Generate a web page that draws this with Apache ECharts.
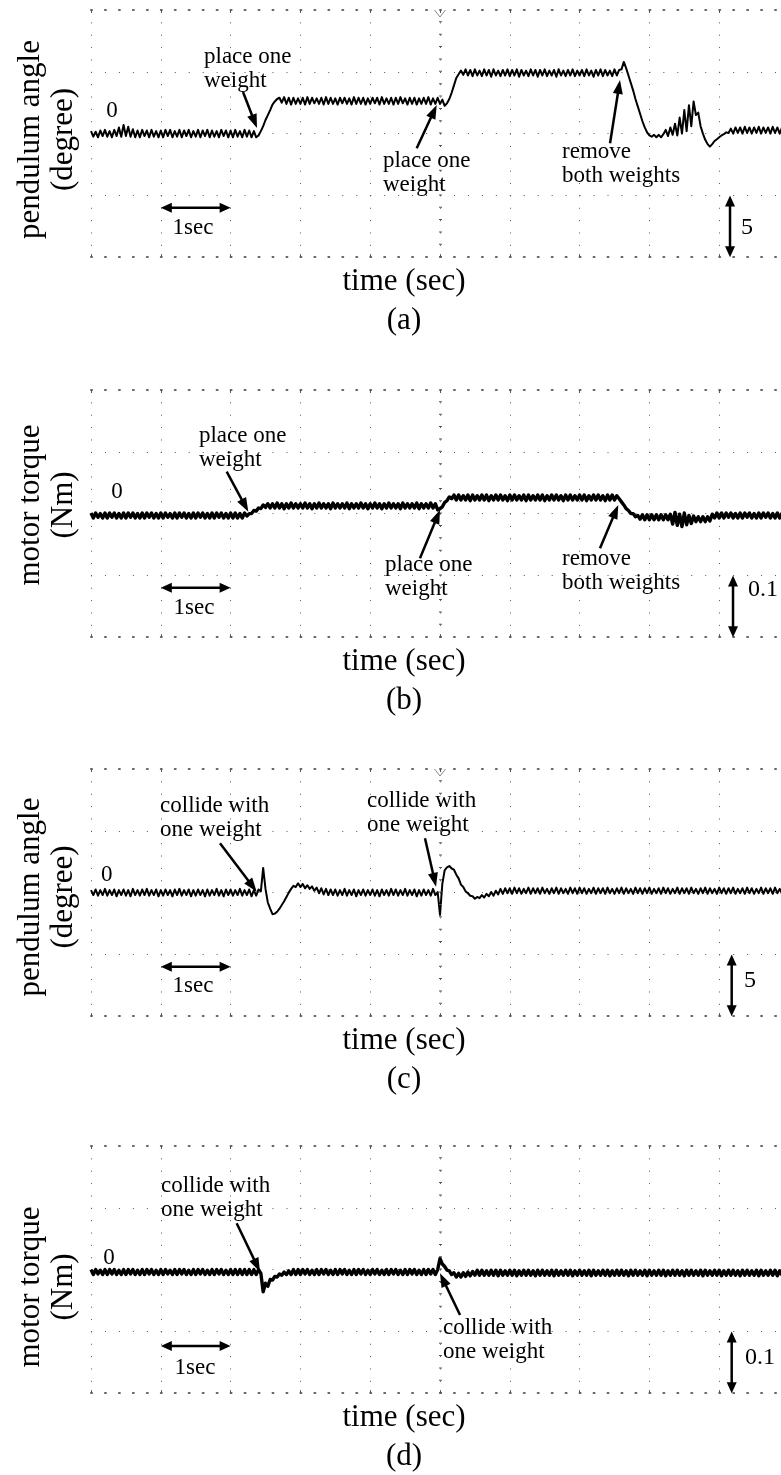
<!DOCTYPE html>
<html>
<head>
<meta charset="utf-8">
<script src="https://cdn.jsdelivr.net/npm/echarts@6/dist/echarts.min.js"></script>
<style>
  html, body { margin: 0; padding: 0; background: #fff; }
  #chart { width: 781px; height: 1475px; }
</style>
</head>
<body>
<div id="chart"></div>
<script>
// Sampling step of the recorded scope traces (seconds)
const DT = 1 / 30;

// (a) pendulum angle while weights are placed / removed (degree)
const angleLoad = [
  0.2, -0.25, 0.15, -0.3, 0.25, -0.2, 0.3, -0.25, 0.2, -0.3, 0.3, -0.2, 0.5, -0.25, 0.7, -0.2, 0.55, -0.25, 0.35, -0.3, 0.25, -0.3, 0.3, -0.2, 0.25, -0.3, 0.3, -0.25, 0.2, -0.3,
  0.25, -0.3, 0.3, -0.2, 0.3, -0.3, 0.2, -0.25, 0.3, -0.3, 0.25, -0.2, 0.3, -0.3, 0.2, -0.25, 0.3, -0.3, 0.25, -0.2, 0.3, -0.3, 0.25, -0.25, 0.2, -0.3, 0.3, -0.2, 0.25, -0.3,
  0.25, -0.3, 0.3, -0.25, 0.2, -0.3, 0.3, -0.25, 0.25, -0.3, 0.2, -0.3, -0.15, 0.2, 0.6, 1.1, 1.5, 1.9, 2.35, 2.6, 2.8, 2.9, 2.5, 2.95, 2.4, 2.9, 2.35, 2.9, 2.4, 2.85,
  2.4, 2.9, 2.35, 2.95, 2.4, 2.9, 2.45, 2.85, 2.4, 2.9, 2.35, 2.95, 2.4, 2.9, 2.4, 2.85, 2.35, 2.9, 2.45, 2.9, 2.4, 2.85, 2.35, 2.95, 2.4, 2.9, 2.4, 2.9, 2.35, 2.85,
  2.4, 2.9, 2.45, 2.9, 2.35, 2.95, 2.4, 2.85, 2.4, 2.9, 2.35, 2.9, 2.4, 2.95, 2.45, 2.85, 2.35, 2.9, 2.4, 2.9, 2.35, 2.85, 2.4, 2.9, 2.4, 2.95, 2.35, 2.85, 2.4, 2.9,
  2.4, 2.75, 2.25, 2.45, 2.8, 3.3, 3.9, 4.5, 4.8, 5.1, 4.75, 5.2, 4.7, 5.15, 4.65, 5.2, 4.7, 5.1, 4.65, 5.2, 4.7, 5.15, 4.6, 5.2, 4.7, 5.1, 4.65, 5.15, 4.7, 5.2,
  4.65, 5.15, 4.7, 5.2, 4.6, 5.15, 4.7, 5.1, 4.65, 5.2, 4.7, 5.15, 4.6, 5.15, 4.7, 5.2, 4.65, 5.1, 4.7, 5.15, 4.6, 5.2, 4.7, 5.1, 4.65, 5.15, 4.7, 5.2, 4.65, 5.1,
  4.7, 5.15, 4.65, 5.2, 4.7, 5.1, 4.6, 5.15, 4.7, 5.2, 4.65, 5.15, 4.7, 5.1, 4.65, 5.2, 4.7, 5.15, 5.2, 5.8, 5.3, 4.7, 4.1, 3.5, 2.8, 2.2, 1.6, 1.0, 0.5, 0.1,
  -0.15, -0.25, -0.1, -0.3, -0.1, -0.3, -0.05, 0.3, -0.2, 0.5, -0.1, 0.8, -0.15, 1.3, 0.0, 1.9, 0.2, 2.3, 0.6, 2.6, 1.5, 1.7, 0.6, 0.0, -0.5, -0.85, -1.05, -0.85, -0.6, -0.45,
  -0.3, -0.15, -0.05, 0.1, 0.05, 0.4, 0.0, 0.5, 0.05, 0.5, 0.0, 0.55, 0.05, 0.5, 0.0, 0.5, 0.05, 0.55, 0.0, 0.5, 0.05, 0.5, 0.0, 0.55, 0.05, 0.5, 0.0, 0.5
];

// (b) motor torque while weights are placed / removed (Nm)
const torqueLoad = [
  0.001, -0.007, 0.001, -0.006, 0.0, -0.007, 0.001, -0.007, 0.001, -0.006, 0.001, -0.007, 0.0, -0.007, 0.001, -0.007, 0.001, -0.006, 0.001, -0.007, 0.0, -0.007, 0.001, -0.007, 0.001, -0.006, 0.001, -0.007, 0.0, -0.007,
  0.001, -0.007, 0.001, -0.006, 0.0, -0.007, 0.001, -0.007, 0.001, -0.006, 0.001, -0.007, 0.0, -0.007, 0.001, -0.007, 0.001, -0.006, 0.001, -0.007, 0.0, -0.007, 0.001, -0.007, 0.001, -0.006, 0.001, -0.007, 0.0, -0.007,
  0.001, -0.007, 0.001, -0.007, 0.0, -0.007, 0.001, -0.004, 0.0, 0.0, 0.005, 0.004, 0.009, 0.008, 0.014, 0.010, 0.016, 0.009, 0.016, 0.009, 0.017, 0.009, 0.016, 0.008, 0.016, 0.009, 0.017, 0.009, 0.016, 0.009,
  0.016, 0.009, 0.017, 0.009, 0.016, 0.008, 0.016, 0.009, 0.017, 0.009, 0.016, 0.009, 0.016, 0.008, 0.017, 0.009, 0.016, 0.009, 0.016, 0.009, 0.017, 0.008, 0.016, 0.009, 0.016, 0.009, 0.017, 0.009, 0.016, 0.008,
  0.016, 0.009, 0.017, 0.009, 0.016, 0.008, 0.016, 0.009, 0.017, 0.009, 0.016, 0.009, 0.016, 0.008, 0.017, 0.009, 0.016, 0.009, 0.016, 0.009, 0.017, 0.008, 0.016, 0.009, 0.016, 0.009, 0.017, 0.009, 0.016, 0.006,
  0.008, 0.011, 0.018, 0.021, 0.027, 0.024, 0.030, 0.022, 0.030, 0.022, 0.029, 0.022, 0.030, 0.021, 0.030, 0.022, 0.029, 0.022, 0.030, 0.022, 0.030, 0.021, 0.029, 0.022, 0.030, 0.022, 0.030, 0.022, 0.029, 0.021,
  0.030, 0.022, 0.030, 0.022, 0.029, 0.022, 0.030, 0.021, 0.030, 0.022, 0.029, 0.022, 0.030, 0.022, 0.030, 0.021, 0.029, 0.022, 0.030, 0.022, 0.030, 0.022, 0.029, 0.021, 0.030, 0.022, 0.030, 0.022, 0.029, 0.022,
  0.030, 0.022, 0.030, 0.021, 0.029, 0.022, 0.030, 0.022, 0.030, 0.022, 0.029, 0.021, 0.030, 0.022, 0.030, 0.022, 0.029, 0.024, 0.019, 0.014, 0.008, 0.005, 0.0, 0.0, -0.005, -0.003, -0.009, -0.002, -0.010, -0.002,
  -0.010, -0.002, -0.010, -0.002, -0.010, -0.002, -0.010, -0.002, -0.010, -0.001, -0.017, 0.002, -0.019, -0.001, -0.021, 0.001, -0.018, -0.003, -0.016, -0.004, -0.013, -0.005, -0.013, -0.005, -0.013, -0.005, -0.012, -0.001, -0.007, 0.001,
  -0.007, 0.001, -0.007, 0.001, -0.006, 0.001, -0.007, 0.0, -0.007, 0.001, -0.007, 0.001, -0.006, 0.001, -0.007, 0.0, -0.007, 0.001, -0.007, 0.001, -0.006, 0.001, -0.007, 0.0, -0.007, 0.001, -0.007, 0.001
];

// (c) pendulum angle when the pendulum collides with a weight (degree)
const angleHit = [
  0.2, -0.2, 0.25, -0.25, 0.2, -0.2, 0.3, -0.25, 0.2, -0.2, 0.25, -0.3, 0.2, -0.2, 0.25, -0.25, 0.2, -0.3, 0.3, -0.2, 0.2, -0.25, 0.25, -0.2, 0.3, -0.25, 0.2, -0.2, 0.25, -0.3,
  0.2, -0.25, 0.25, -0.2, 0.2, -0.3, 0.25, -0.2, 0.3, -0.25, 0.2, -0.2, 0.25, -0.3, 0.2, -0.25, 0.25, -0.2, 0.2, -0.3, 0.25, -0.25, 0.2, -0.2, 0.3, -0.25, 0.2, -0.3, 0.25, -0.2,
  0.25, -0.25, 0.2, -0.2, 0.3, -0.25, 0.2, -0.2, 0.25, -0.3, 0.2, -0.25, 0.25, 0.1, 2.0, 0.3, -0.8, -1.3, -1.75, -1.7, -1.55, -1.3, -1.0, -0.7, -0.35, 0.0, 0.3, 0.55, 0.45, 0.75,
  0.45, 0.7, 0.35, 0.6, 0.3, 0.5, 0.15, 0.4, -0.05, 0.35, -0.15, 0.3, -0.2, 0.25, -0.2, 0.25, -0.25, 0.2, -0.2, 0.3, -0.25, 0.2, -0.2, 0.25, -0.3, 0.2, -0.2, 0.25, -0.25, 0.2,
  -0.2, 0.25, -0.25, 0.2, -0.3, 0.25, -0.2, 0.2, -0.25, 0.3, -0.2, 0.25, -0.25, 0.2, -0.2, 0.3, -0.25, 0.2, -0.2, 0.25, -0.3, 0.2, -0.25, 0.25, -0.2, 0.2, -0.25, 0.3, -0.2, 0.05,
  -1.8, 0.7, 1.8, 2.05, 2.15, 1.95, 1.85, 1.45, 1.15, 0.65, 0.45, 0.1, -0.05, -0.25, -0.3, -0.5, -0.35, -0.45, -0.2, -0.4, -0.1, -0.3, 0.05, -0.25, 0.15, -0.15, 0.3, -0.1, 0.35, -0.05,
  0.35, -0.1, 0.4, -0.05, 0.35, -0.1, 0.3, -0.05, 0.4, -0.1, 0.35, -0.05, 0.35, -0.1, 0.4, -0.05, 0.3, -0.1, 0.35, -0.05, 0.4, -0.1, 0.35, -0.05, 0.3, -0.1, 0.4, -0.05, 0.35, -0.1,
  0.4, -0.05, 0.35, -0.1, 0.3, -0.05, 0.4, -0.1, 0.35, -0.05, 0.35, -0.1, 0.4, -0.05, 0.3, -0.1, 0.35, -0.05, 0.4, -0.1, 0.35, -0.05, 0.3, -0.1, 0.4, -0.05, 0.35, -0.1, 0.35, -0.05,
  0.4, -0.1, 0.3, -0.05, 0.35, -0.1, 0.4, -0.05, 0.35, -0.1, 0.3, -0.05, 0.4, -0.1, 0.35, -0.05, 0.35, -0.1, 0.4, -0.05, 0.3, -0.1, 0.35, -0.05, 0.4, -0.1, 0.35, -0.05, 0.3, -0.1,
  0.4, -0.05, 0.35, -0.1, 0.35, -0.05, 0.4, -0.1, 0.3, -0.05, 0.35, -0.1, 0.4, -0.05, 0.35, -0.1, 0.3, -0.05, 0.4, -0.1, 0.35, -0.05, 0.35, -0.1, 0.4, -0.05, 0.3, -0.1
];

// (d) motor torque when the pendulum collides with a weight (Nm)
const torqueHit = [
  0.0, -0.008, 0.0, -0.007, -0.001, -0.008, 0.0, -0.008, 0.0, -0.007, 0.0, -0.008, -0.001, -0.008, 0.0, -0.008, 0.0, -0.007, 0.0, -0.008, -0.001, -0.008, 0.0, -0.008, 0.0, -0.007, 0.0, -0.008, -0.001, -0.008,
  0.0, -0.008, 0.0, -0.007, -0.001, -0.008, 0.0, -0.008, 0.0, -0.007, 0.0, -0.008, -0.001, -0.008, 0.0, -0.008, 0.0, -0.007, 0.0, -0.008, -0.001, -0.008, 0.0, -0.008, 0.0, -0.007, 0.0, -0.008, -0.001, -0.008,
  0.0, -0.008, 0.0, -0.008, 0.0, -0.008, 0.0, -0.008, 0.0, -0.008, 0.0, -0.008, 0.0, -0.006, -0.036, -0.022, -0.027, -0.016, -0.017, -0.011, -0.012, -0.007, -0.009, -0.004, -0.008, -0.002, -0.008, 0.0, -0.008, 0.0,
  -0.008, 0.0, -0.007, 0.0, -0.008, -0.001, -0.008, 0.0, -0.008, 0.0, -0.007, 0.0, -0.008, -0.001, -0.008, 0.0, -0.008, 0.0, -0.007, 0.0, -0.008, -0.001, -0.008, 0.0, -0.008, 0.0, -0.007, 0.0, -0.008, -0.001,
  -0.008, 0.0, -0.007, 0.0, -0.008, -0.001, -0.008, 0.0, -0.008, 0.0, -0.007, 0.0, -0.008, -0.001, -0.008, 0.0, -0.008, 0.0, -0.007, 0.0, -0.008, -0.001, -0.008, 0.0, -0.008, 0.0, -0.007, 0.0, -0.008, 0.0,
  0.018, 0.009, 0.005, -0.001, -0.002, -0.008, -0.005, -0.012, -0.006, -0.012, -0.005, -0.011, -0.004, -0.010, -0.003, -0.009, -0.001, -0.009, -0.001, -0.009, -0.002, -0.009, -0.001, -0.009, -0.001, -0.010, -0.001, -0.009, -0.002, -0.009,
  -0.001, -0.009, -0.001, -0.010, -0.002, -0.009, -0.001, -0.009, -0.001, -0.009, -0.002, -0.010, -0.001, -0.009, -0.001, -0.009, -0.002, -0.009, -0.001, -0.010, -0.001, -0.009, -0.002, -0.009, -0.001, -0.009, -0.001, -0.010, -0.002, -0.009,
  -0.001, -0.009, -0.002, -0.009, -0.001, -0.010, -0.001, -0.009, -0.002, -0.009, -0.001, -0.009, -0.001, -0.010, -0.002, -0.009, -0.001, -0.009, -0.001, -0.009, -0.002, -0.010, -0.001, -0.009, -0.001, -0.009, -0.002, -0.009, -0.001, -0.010,
  -0.001, -0.009, -0.002, -0.009, -0.001, -0.009, -0.001, -0.010, -0.002, -0.009, -0.001, -0.009, -0.001, -0.009, -0.002, -0.010, -0.001, -0.009, -0.001, -0.009, -0.002, -0.009, -0.001, -0.010, -0.001, -0.009, -0.002, -0.009, -0.001, -0.009,
  -0.001, -0.010, -0.002, -0.009, -0.001, -0.009, -0.001, -0.009, -0.002, -0.010, -0.001, -0.009, -0.001, -0.009, -0.002, -0.009, -0.001, -0.010, -0.001, -0.009, -0.002, -0.009, -0.001, -0.009, -0.001, -0.010, -0.002, -0.009
];

// Axis ranges: 1 s per horizontal division, 5 degree or 0.1 Nm per vertical division
const TIME_RANGE = [0, 10];
const TIME_STEP = 1;
const ANGLE_RANGE = [-10, 10];
const ANGLE_STEP = 5;
const TORQUE_RANGE = [-0.2, 0.2];
const TORQUE_STEP = 0.1;

// Screen layout of the four scope panels (the last division runs past the right edge)
const GRID_LEFT = 91, GRID_W = 698, GRID_H = 247.2;
const MINOR_X = GRID_W / 10 / 5;   // dot pitch along horizontal grid lines
const MINOR_Y = GRID_H / 4 / 5;    // dot pitch along vertical grid lines
const SERIF = '"Liberation Serif", "Times New Roman", serif';
const INK = '#000';
const DOT = '#555';

const panels = [
  {
    top: 10, values: angleLoad, range: ANGLE_RANGE, step: ANGLE_STEP, lineW: 2,
    yTitle: ['pendulum angle', '(degree)'], yTitleDy: 129.5, tag: '(a)', trigger: true,
    zero: [0.301, 1.83], oneSec: { v: -6.0, label: [1.461, -7.64] },
    scale: { t: 9.155, text: '5', label: [9.398, -7.64] },
    notes: [
      { text: 'place one\nweight', at: [1.619, 5.27], from: [2.178, 3.37], to: [2.378, 0.45] },
      { text: 'place one\nweight', at: [4.183, -3.15], from: [4.666, -1.19], to: [4.953, 2.31] },
      { text: 'remove\nboth weights', at: [6.748, -2.46], from: [7.436, -0.78], to: [7.579, 4.34] }
    ]
  },
  {
    top: 390, values: torqueLoad, range: TORQUE_RANGE, step: TORQUE_STEP, lineW: 3.4,
    yTitle: ['motor torque', '(Nm)'], yTitleDy: 115, tag: '(b)', trigger: false,
    zero: [0.372, 0.035], oneSec: { v: -0.12, label: [1.476, -0.153] },
    scale: { t: 9.198, text: '0.1', label: [9.628, -0.1236] },
    notes: [
      { text: 'place one\nweight', at: [1.547, 0.1061], from: [1.944, 0.0678], to: [2.254, 0.0031] },
      { text: 'place one\nweight', at: [4.212, -0.1018], from: [4.713, -0.0723], to: [5.0, 0.0058] },
      { text: 'remove\nboth weights', at: [6.748, -0.0929], from: [7.292, -0.0561], to: [7.554, 0.0139] }
    ]
  },
  {
    top: 769, values: angleHit, range: ANGLE_RANGE, step: ANGLE_STEP, lineW: 2,
    yTitle: ['pendulum angle', '(degree)'], yTitleDy: 128, tag: '(c)', trigger: true,
    zero: [0.225, 1.46], oneSec: { v: -6.0, label: [1.461, -7.53] },
    scale: { t: 9.179, text: '5', label: [9.441, -7.12] },
    notes: [
      { text: 'collide with\none weight', at: [0.989, 6.04], from: [1.848, 3.99], to: [2.374, 0.07] },
      { text: 'collide with\none weight', at: [3.954, 6.48], from: [4.785, 4.39], to: [4.943, 0.48] }
    ]
  },
  {
    top: 1146, values: torqueHit, range: TORQUE_RANGE, step: TORQUE_STEP, lineW: 3.4,
    yTitle: ['motor torque', '(Nm)'], yTitleDy: 141, tag: '(d)', trigger: false,
    zero: [0.258, 0.0188], oneSec: { v: -0.1236, label: [1.49, -0.1587] },
    scale: { t: 9.179, text: '0.1', label: [9.585, -0.143] },
    notes: [
      { text: 'collide with\none weight', at: [1.003, 0.1167], from: [2.087, 0.0749], to: [2.421, -0.0034] },
      { text: 'collide with\none weight', at: [5.043, -0.1139], from: [5.287, -0.0735], to: [5.0, -0.006] }
    ]
  }
];

const chart = echarts.init(document.getElementById('chart'), null, { renderer: 'canvas', width: 781, height: 1475 });

const grid = [], xAxis = [], yAxis = [], series = [];
const borderLine = { show: true, onZero: false, lineStyle: { color: '#666', width: 2, type: [1, MINOR_X - 1] } };
const majorTick = { show: true, inside: true, length: 3, lineStyle: { color: '#555', width: 1 } };

panels.forEach((p, k) => {
  grid.push({ left: GRID_LEFT, top: p.top, width: GRID_W, height: GRID_H, outerBoundsMode: 'none' });
  // bottom time axis: vertical dotted division lines and the lower border ticks
  xAxis.push({
    gridIndex: k, type: 'value', min: TIME_RANGE[0], max: TIME_RANGE[1], interval: TIME_STEP,
    position: 'bottom', axisLine: borderLine, axisTick: majorTick,
    axisLabel: { show: false },
    splitLine: { show: true, lineStyle: { color: DOT, width: 1, type: [1, MINOR_Y - 1] } }
  });
  // top border of the screen
  xAxis.push({
    gridIndex: k, type: 'value', min: TIME_RANGE[0], max: TIME_RANGE[1], interval: TIME_STEP,
    position: 'top', axisLine: borderLine, axisTick: majorTick,
    axisLabel: { show: false }, splitLine: { show: false }
  });
  yAxis.push({
    gridIndex: k, type: 'value', min: p.range[0], max: p.range[1], interval: p.step,
    axisLine: { show: false }, axisTick: { show: false }, axisLabel: { show: false },
    splitLine: { show: true, showMinLine: false, showMaxLine: false, lineStyle: { color: DOT, width: 1, type: [1, MINOR_X - 1] } }
  });
  series.push({
    type: 'line', xAxisIndex: 2 * k, yAxisIndex: k,
    data: p.values.map((v, i) => [i * DT, v]),
    showSymbol: false, symbol: 'none', smooth: false, clip: true, silent: true,
    lineStyle: { color: INK, width: p.lineW, join: 'round' },
    markLine: {
      silent: true, symbol: 'none', label: { show: false },
      lineStyle: { color: '#555', width: 3, type: [1, MINOR_Y - 1] },
      data: [{ xAxis: (TIME_RANGE[0] + TIME_RANGE[1]) / 2 }]
    }
  });
});

chart.setOption({ animation: false, backgroundColor: '#fff', grid, xAxis, yAxis, series });

// ---------- annotations ----------
const els = [];
function text(x, y, str, size, align, extra) {
  els.push(Object.assign({
    type: 'text', x, y, silent: true, z: 20,
    style: { text: str, fill: INK, fontSize: size, fontFamily: SERIF, align: align || 'center', verticalAlign: 'middle', lineHeight: 24 }
  }, extra || {}));
}
function head(tip, back, len, half) {
  const dx = tip[0] - back[0], dy = tip[1] - back[1], L = Math.hypot(dx, dy);
  const ux = dx / L, uy = dy / L;
  const bx = tip[0] - ux * len, by = tip[1] - uy * len;
  els.push({
    type: 'polygon', silent: true, z: 20,
    shape: { points: [tip, [bx - uy * half, by + ux * half], [bx + uy * half, by - ux * half]] },
    style: { fill: INK }
  });
  return [tip[0] - ux * len * 0.6, tip[1] - uy * len * 0.6];
}
function arrow(a, b, both, len, half, width) {
  const end = head(b, a, len, half);
  const start = both ? head(a, b, len, half) : a;
  els.push({
    type: 'line', silent: true, z: 20,
    shape: { x1: start[0], y1: start[1], x2: end[0], y2: end[1] },
    style: { stroke: INK, lineWidth: width }
  });
}

panels.forEach((p, k) => {
  const px = (pt) => chart.convertToPixel({ xAxisIndex: 2 * k, yAxisIndex: k }, pt);
  const topY = p.top;

  // vertical axis title (two rotated lines)
  text(31, topY + p.yTitleDy, p.yTitle[0], 31, 'center', { rotation: Math.PI / 2 });
  text(64, topY + p.yTitleDy, p.yTitle[1], 31, 'center', { rotation: Math.PI / 2 });
  // time axis title and panel tag
  text(404, topY + 272, 'time (sec)', 31);
  text(404, topY + 311, p.tag, 31);

  // trace reference level
  const z = px(p.zero);
  text(z[0], z[1], '0', 23);

  // one-second marker
  arrow(px([1, p.oneSec.v]), px([2, p.oneSec.v]), true, 11, 5, 2.5);
  const l1 = px(p.oneSec.label);
  text(l1[0], l1[1], '1sec', 23);

  // one-division vertical scale marker
  arrow(px([p.scale.t, -p.step]), px([p.scale.t, -2 * p.step]), true, 11, 5, 2.5);
  const ls = px(p.scale.label);
  text(ls[0], ls[1], p.scale.text, 24);

  // event notes with pointers
  p.notes.forEach((n) => {
    const a = px(n.at);
    text(a[0], a[1], n.text, 23, 'left');
    arrow(px(n.from), px(n.to), false, 14, 5, 2.5);
  });

  // trigger-position marker on the top edge
  if (p.trigger) {
    const c = px([(TIME_RANGE[0] + TIME_RANGE[1]) / 2, p.range[1]]);
    els.push({
      type: 'polyline', silent: true, z: 15,
      shape: { points: [[c[0] - 5.5, c[1]], [c[0], c[1] + 7], [c[0] + 5.5, c[1]]] },
      style: { stroke: '#888', lineWidth: 1, fill: null }
    });
  }
});

chart.setOption({ graphic: { elements: els } });
</script>
</body>
</html>
